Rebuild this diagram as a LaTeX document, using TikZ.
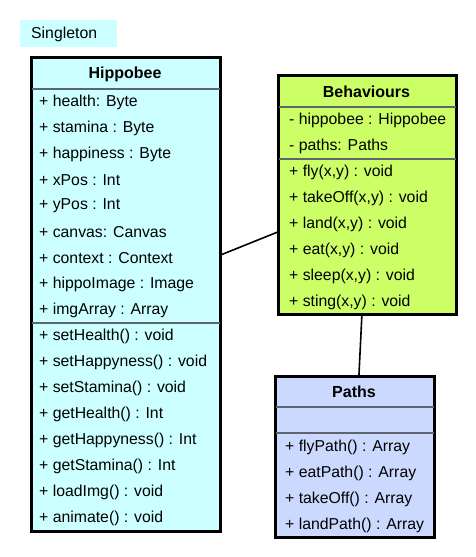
\documentclass[tikz,border=0pt]{standalone}
\usepackage{fontspec}
\setmainfont{Liberation Sans}
\definecolor{cyanfill}{HTML}{CCFFFF}
\definecolor{limefill}{HTML}{CCFF66}
\definecolor{bluefill}{HTML}{CCD9FF}
\definecolor{sepgray}{HTML}{5F6470}
\begin{document}
\begin{tikzpicture}[x=1pt,y=-1pt,
  box/.style={draw=black,line width=1.8pt,anchor=north west,inner sep=0pt},
  sep/.style={draw=sepgray,line width=1.8pt},
  txt/.style={anchor=west,inner sep=0pt,font=\fontsize{15.8}{18}\selectfont},
  title/.style={anchor=center,inner sep=0pt,font=\fontsize{16}{18}\selectfont\bfseries},
  link/.style={draw=black,line width=1.6pt}]
\useasboundingbox (0,0) rectangle (476,557);
% Singleton label
\node[fill=cyanfill,anchor=north west,minimum width=97,minimum height=27,inner sep=0pt] (sing) at (20,20) {};
\node[txt] (singt) at (31,34) {Singleton};
% Hippobee
\node[box,fill=cyanfill,minimum width=188,minimum height=473] (hip) at (31,57) {};
\node[title] (hipt) at (125,74) {Hippobee};
\draw[sep] (hip.west |- 0,89) -- (hip.east |- 0,89);
\draw[sep] (hip.west |- 0,323) -- (hip.east |- 0,323);
\foreach \t [count=\i] in {{+ health: Byte},{+ stamina : Byte},{+ happiness : Byte},{+ xPos : Int},{+ yPos : Int},{+ canvas: Canvas},{+ context : Context},{+ hippoImage : Image},{+ imgArray : Array}}
  \node[txt] (ha\i) at (39,{102+26*(\i-1)}) {\t};
\foreach \t [count=\i] in {{+ setHealth() : void},{+ setHappyness() : void},{+ setStamina() : void},{+ getHealth() : Int},{+ getHappyness() : Int},{+ getStamina() : Int},{+ loadImg() : void},{+ animate() : void}}
  \node[txt] (hm\i) at (39,{336+26*(\i-1)}) {\t};
\draw[box] (hip.north west) rectangle (hip.south east);
% Behaviours
\node[box,fill=limefill,minimum width=177,minimum height=238] (beh) at (278,75) {};
\node[title] (beht) at (366.5,92) {Behaviours};
\draw[sep] (beh.west |- 0,107) -- (beh.east |- 0,107);
\draw[sep] (beh.west |- 0,159) -- (beh.east |- 0,159);
\node[txt] (ba1) at (289,120) {- hippobee : Hippobee};
\node[txt] (ba2) at (289,146) {- paths: Paths};
\foreach \t [count=\i] in {{+ fly(x,y) : void},{+ takeOff(x,y) : void},{+ land(x,y) : void},{+ eat(x,y) : void},{+ sleep(x,y) : void},{+ sting(x,y) : void}}
  \node[txt] (bm\i) at (289,{172+26*(\i-1)}) {\t};
\draw[box] (beh.north west) rectangle (beh.south east);
% Paths
\node[box,fill=bluefill,minimum width=158,minimum height=160] (pth) at (275,376) {};
\node[title] (ptht) at (354,392) {Paths};
\draw[sep] (pth.west |- 0,407) -- (pth.east |- 0,407);
\draw[sep] (pth.west |- 0,433) -- (pth.east |- 0,433);
\foreach \t [count=\i] in {{+ flyPath() : Array},{+ eatPath() : Array},{+ takeOff() : Array},{+ landPath() : Array}}
  \node[txt] (pm\i) at (285,{447+26*(\i-1)}) {\t};
\draw[box] (pth.north west) rectangle (pth.south east);
% connectors
\draw[link] ([yshift=39.5pt]hip.east) -- ([yshift=-37pt]beh.west);
\draw[link] ([xshift=-5.5pt]beh.south) -- ([xshift=4pt]pth.north);
\end{tikzpicture}
\end{document}
